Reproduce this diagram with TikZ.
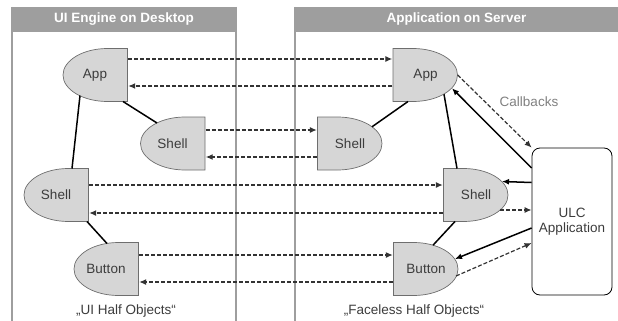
\documentclass[tikz,border=0pt]{standalone}
\usepackage{fontspec}
\setmainfont{Liberation Sans}
\usetikzlibrary{arrows.meta}

\definecolor{shapegray}{RGB}{214,214,214}
\definecolor{shapeline}{RGB}{110,110,110}
\definecolor{lanegray}{RGB}{158,158,158}
\definecolor{textgray}{RGB}{60,60,60}

\begin{document}
\begin{tikzpicture}[x=1pt,y=-1pt,font=\fontsize{13.5}{15}\selectfont,>={Latex[length=7pt,width=6pt]}]
\useasboundingbox (0,0) rectangle (618,321);

%LANES/BACKGROUND
\coordinate (leftTop) at (12,7);
\coordinate (leftBot) at (12,321);
\coordinate (middleTop) at (236,7);
\coordinate (middleBot) at (236,321);
\coordinate (middleTop2) at (295,7);
\coordinate (middleBot2) at (295,321);
\draw[line width=1.2pt,color=lanegray] (leftTop) -- (leftBot);
\draw[line width=1.2pt,color=lanegray] (middleTop) -- (middleBot);
\draw[line width=1.2pt,color=lanegray] (middleTop2) -- (middleBot2);

\tikzstyle{lanehead}=[fill=lanegray,text=white,font=\fontsize{13.5}{15}\selectfont\bfseries,minimum height=25pt,inner sep=0pt]
\node[lanehead,minimum width=224pt] (headDesktop) at (124,19.5) {UI Engine on Desktop};
\node[lanehead,minimum width=323pt] (headServer) at (456.5,19.5) {Application on Server};

%%%%%%%%%%%%%%%%%%%%%%%%%%%%%%%%%%%%%%%%%%%%%%%%%%%%%%%%%%%%%%
%half objects
\tikzstyle{halfobj}=[minimum width=66pt,minimum height=54pt,inner sep=0pt,text=textgray]
%ui side (flat edge right)
\tikzstyle{uihalf}=[halfobj,path picture={
  \draw[fill=shapegray,draw=shapeline,line width=0.7pt]
    ([shift={(-0.5pt,-0.5pt)}]path picture bounding box.north east) -- ++(-20pt,0pt)
    arc[start angle=90,end angle=270,x radius=44.5pt,y radius=26.5pt]
    -- ([shift={(-0.5pt,0.5pt)}]path picture bounding box.south east) -- cycle;}]
%faceless side (flat edge left)
\tikzstyle{facelesshalf}=[halfobj,path picture={
  \draw[fill=shapegray,draw=shapeline,line width=0.7pt]
    ([shift={(0.5pt,-0.5pt)}]path picture bounding box.north west) -- ++(20pt,0pt)
    arc[start angle=90,end angle=-90,x radius=44.5pt,y radius=26.5pt]
    -- ([shift={(0.5pt,0.5pt)}]path picture bounding box.south west) -- cycle;}]
\tikzstyle{ulcbox}=[draw,line width=0.8pt,rounded corners=8pt,minimum width=80pt,minimum height=147pt,align=center,text=textgray]

%desktop
\node[uihalf] (app) at (95,75) {App};
\node[uihalf] (shell1) at (172.5,143.5) {Shell};
\node[uihalf] (shell2) at (56,195) {Shell};
\node[uihalf] (button) at (106,269) {Button};
%server
\node[facelesshalf] (appbis) at (425.5,75) {App};
\node[facelesshalf] (shell1bis) at (350,143.5) {Shell};
\node[facelesshalf] (shell2bis) at (476,195) {Shell};
\node[facelesshalf] (buttonbis) at (426,269) {Button};
%ULC
\node[ulcbox] (ulc) at (572,221.5) {ULC\\Application};

%labels
\node[text=textgray] (uilabel) at (126,311) {„UI Half Objects“};
\node[text=textgray] (facelesslabel) at (414,311) {„Faceless Half Objects“};
\node[text=black!50] (callbacks) at (529,102) {Callbacks};

%%%%%%%%%%%%%%%%%%%%%%%%%%%%%%%%%%%%%%%%%%%%%%%%%%%%%%%%%%%%%%
%ARROWS
\tikzstyle{remote}=[line width=1.2pt,color=black!80,dash pattern=on 4pt off 2pt]
\tikzstyle{tree}=[line width=1.5pt]

%desktop<->server
\draw[->,remote] ([yshift=16]app.east) -- ([yshift=16]appbis.west);
\draw[->,remote] ([yshift=-11]appbis.west) -- ([yshift=-11]app.east);
\draw[->,remote] ([yshift=13.5]shell1.east) -- ([yshift=13.5]shell1bis.west);
\draw[->,remote] ([yshift=-13.5]shell1bis.west) -- ([yshift=-13.5]shell1.east);
\draw[->,remote] ([yshift=10]shell2.east) -- ([yshift=10]shell2bis.west);
\draw[->,remote] ([yshift=-18]shell2bis.west) -- ([yshift=-18]shell2.east);
\draw[->,remote] ([yshift=14]button.east) -- ([yshift=14]buttonbis.west);
\draw[->,remote] ([yshift=-13]buttonbis.west) -- ([yshift=-13]button.east);

%desktop tree
\draw[tree] ([shift={(28,26.5)}]app.center) -- ([shift={(-15.5,-20.5)}]shell1.center);
\draw[tree] ([shift={(-15,20.5)}]app.center) -- ([shift={(16,-26.5)}]shell2.center);
\draw[tree] ([shift={(31,26.5)}]shell2.center) -- ([shift={(1,-25.5)}]button.center);
%server tree
\draw[tree] ([shift={(-17.5,26.5)}]appbis.center) -- ([shift={(22,-16.7)}]shell1bis.center);
\draw[tree] ([shift={(18.5,19.3)}]appbis.center) -- ([shift={(-19,-26.5)}]shell2bis.center);
\draw[tree] ([shift={(-21,26.5)}]shell2bis.center) -- ([shift={(7,-23.8)}]buttonbis.center);

%ULC
\draw[->,remote] ([xshift=-1]appbis.east) -- (ulc.north west);
\draw[->,tree] ([shift={(0,-53.5)}]ulc.west) -- ([shift={(26.5,13.3)}]appbis.center);
\draw[->,tree] ([shift={(0,-39)}]ulc.west) -- ([shift={(26,-13.5)}]shell2bis.center);
\draw[->,remote] ([shift={(24,15)}]shell2bis.center) -- ([shift={(0,-11.5)}]ulc.west);
\draw[->,tree] ([shift={(0,6.5)}]ulc.west) -- ([shift={(29,-10)}]buttonbis.center);
\draw[->,remote] ([shift={(30,7)}]buttonbis.center) -- ([shift={(0,21.5)}]ulc.west);
\end{tikzpicture}
\end{document}
